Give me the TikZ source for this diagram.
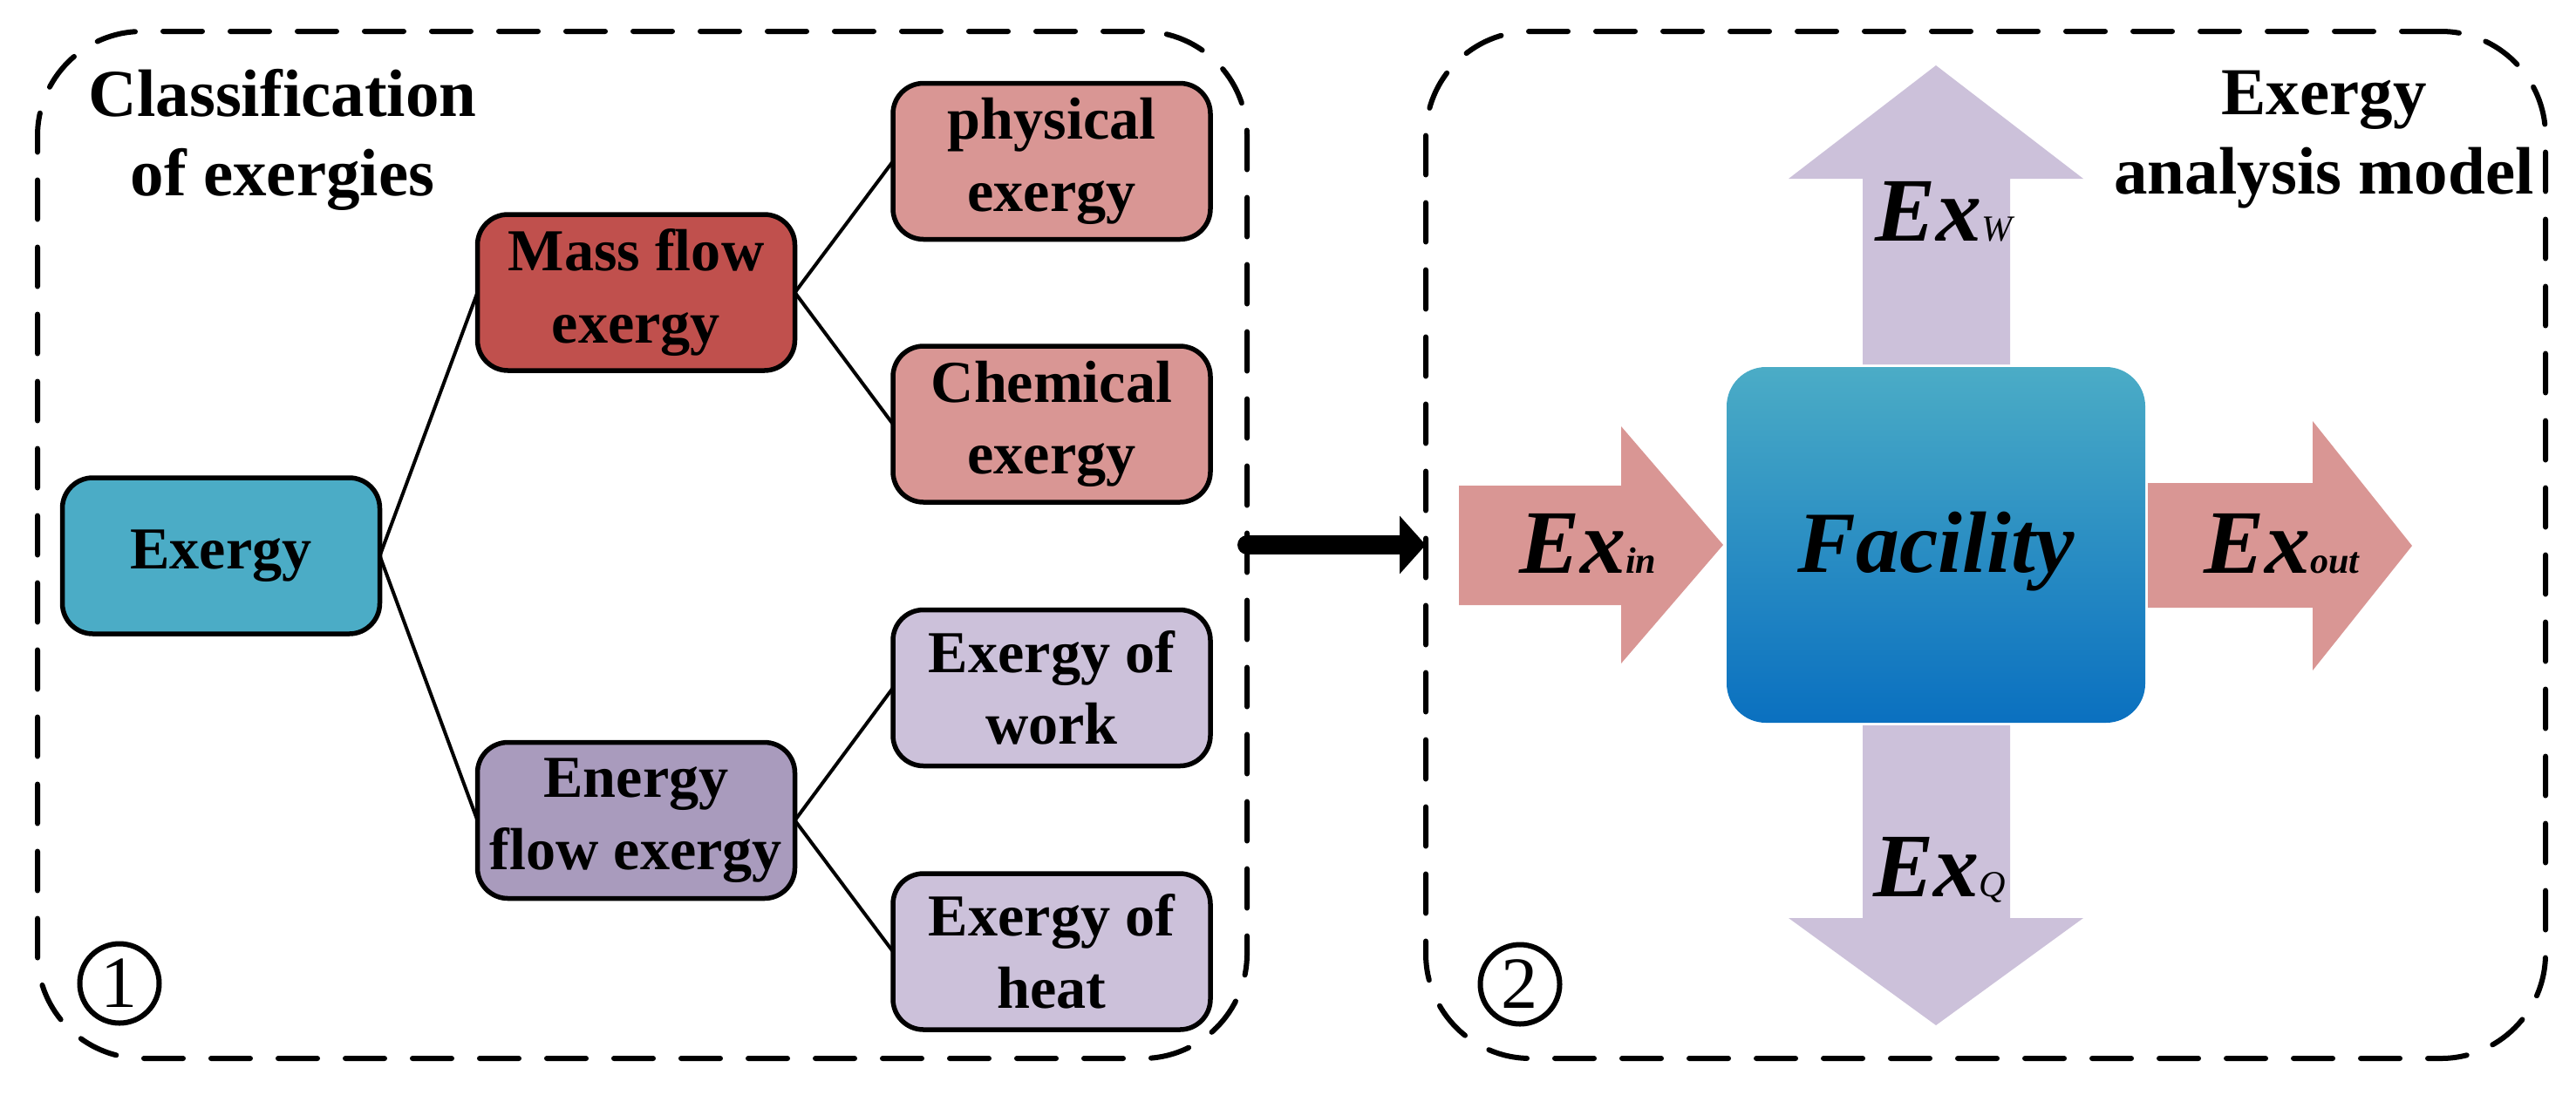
\documentclass[tikz,border=0pt]{standalone}
\usepackage{fontspec}
\setmainfont{Liberation Serif}
\usetikzlibrary{arrows.meta}
\definecolor{cteal}{HTML}{4BACC6}
\definecolor{cred}{HTML}{C0504D}
\definecolor{cpink}{HTML}{D99694}
\definecolor{cpurple}{HTML}{A99BBD}
\definecolor{clav}{HTML}{CCC1DA}
\definecolor{cblue}{HTML}{0A70C0}
\newcommand\boxfont{\fontsize{19.4}{23.5}\selectfont\bfseries}
\newcommand\titlefont{\fontsize{21.9}{25.9}\selectfont\bfseries}
\newcommand\exlabel[1]{{\fontsize{29.6}{30}\selectfont\bfseries\itshape Ex}{\fontsize{12}{12}\selectfont\bfseries\itshape #1}}
\tikzset{
  panel/.style={draw, line width=0.06cm, dash pattern=on 0.45cm off 0.32cm, line cap=round, rounded corners=1.2cm, minimum height=11.78cm, inner sep=0pt, outer sep=0pt},
  treebox/.style={draw, line width=0.055cm, rounded corners=0.35cm, minimum width=3.64cm, minimum height=1.79cm, inner sep=0pt, outer sep=0pt, align=center, font=\boxfont},
  link/.style={line width=0.04cm},
  numcirc/.style={draw, circle, line width=0.06cm, minimum size=0.91cm, inner sep=0pt, font=\fontsize{24}{24}\selectfont},
  title/.style={align=center, font=\titlefont, inner sep=0pt},
  exlab/.style={anchor=base, inner sep=0pt}
}
\begin{document}
\begin{tikzpicture}
\useasboundingbox (0,0) rectangle (29.54,-12.55);
% panels
\node[panel, minimum width=13.87cm] (p1) at (7.365,-6.25) {};
\node[panel, minimum width=12.84cm] (p2) at (22.77,-6.25) {};
% titles
\node[title] (t1) at (3.24,-1.60) {Classification\\of exergies};
\node[title] (t2) at (26.65,-1.60) {Exergy\\analysis model};
% tree
\node[treebox, fill=cteal] (ex) at (2.535,-6.375) {Exergy};
\node[treebox, fill=cred] (mass) at (7.295,-3.355) {Mass flow\\exergy};
\node[treebox, fill=cpurple] (energy) at (7.295,-9.41) {Energy\\flow exergy};
\node[treebox, fill=cpink] (phys) at (12.06,-1.85) {physical\\exergy};
\node[treebox, fill=cpink] (chem) at (12.06,-4.865) {Chemical\\exergy};
\node[treebox, fill=clav] (work) at (12.06,-7.89) {Exergy of\\work};
\node[treebox, fill=clav] (heat) at (12.06,-10.915) {Exergy of\\heat};
\draw[link] (ex.east) -- (mass.west);
\draw[link] (ex.east) -- (energy.west);
\draw[link] (mass.east) -- (phys.west);
\draw[link] (mass.east) -- (chem.west);
\draw[link] (energy.east) -- (work.west);
\draw[link] (energy.east) -- (heat.west);
% circled numbers
\node[numcirc] (n1) at (1.37,-11.28) {1};
\node[numcirc] (n2) at (17.43,-11.29) {2};
% connector between panels
\draw[line width=0.22cm, line cap=round, -{Triangle[length=0.3cm,width=0.65cm]}] (p1.east) -- (p2.west);
% block arrows
\fill[cpink] (16.73,-5.57) -- (18.59,-5.57) -- (18.59,-4.89) -- (19.76,-6.25) -- (18.59,-7.61) -- (18.59,-6.94) -- (16.73,-6.94) -- cycle;
\fill[cpink] (24.63,-5.54) -- (26.52,-5.54) -- (26.52,-4.83) -- (27.66,-6.26) -- (26.52,-7.69) -- (26.52,-6.97) -- (24.63,-6.97) -- cycle;
\fill[clav] (21.36,-4.18) -- (21.36,-2.05) -- (20.51,-2.05) -- (22.20,-0.75) -- (23.89,-2.05) -- (23.05,-2.05) -- (23.05,-4.18) -- cycle;
\fill[clav] (21.36,-8.32) -- (21.36,-10.53) -- (20.51,-10.53) -- (22.20,-11.76) -- (23.89,-10.53) -- (23.05,-10.53) -- (23.05,-8.32) -- cycle;
% facility
\node[rounded corners=0.45cm, minimum width=4.8cm, minimum height=4.08cm, top color=cteal, bottom color=cblue, inner sep=0pt, text height=0.84cm, text depth=0.22cm, font=\fontsize{28.45}{30}\selectfont\bfseries\itshape] (fac) at (22.2,-6.25) {Facility};
% labels
\node[exlab] (lin) at (18.21,-6.57) {\exlabel{in}};
\node[exlab] (lout) at (26.165,-6.57) {\exlabel{out}};
\node[exlab] (lw) at (22.29,-2.76) {{\fontsize{29.6}{30}\selectfont\bfseries\itshape Ex}{\fontsize{12}{12}\selectfont\itshape W}};
\node[exlab] (lq) at (22.24,-10.28) {{\fontsize{29.6}{30}\selectfont\bfseries\itshape Ex}{\fontsize{12}{12}\selectfont\itshape Q}};
\end{tikzpicture}
\end{document}
